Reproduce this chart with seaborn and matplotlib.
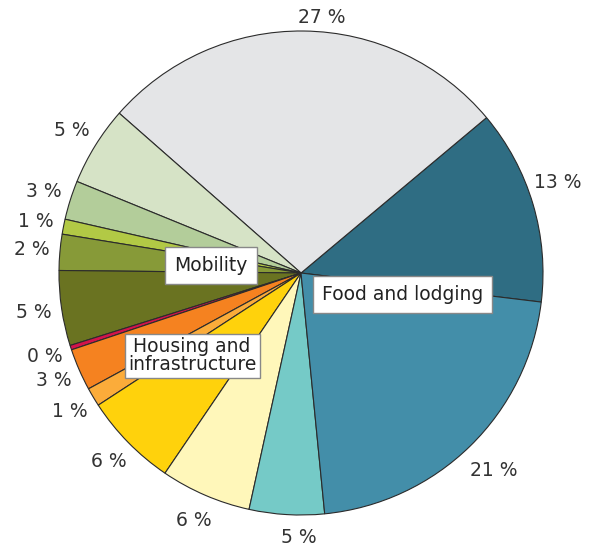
import matplotlib
matplotlib.use("Agg")
import matplotlib.pyplot as plt
import seaborn as sns
import numpy as np

sns.set_theme(style="white")
plt.rcParams['font.family'] = ['DejaVu Sans']

# shares in %, counter-clockwise starting just below 3 o'clock
categorias = ['Food dark', 'Grey', 'Pale green', 'Light green', 'Yellow green',
              'Olive', 'Dark olive', 'Red', 'Orange', 'Light orange',
              'Yellow', 'Light yellow', 'Light teal', 'Teal']
valores = [13.0, 27.4, 5.3, 2.6, 1.0, 2.4, 5.0, 0.3, 2.8, 1.25, 6.3, 6.05, 5.0, 21.5]
rotulos = ['13 %', '27 %', '5 %', '3 %', '1 %', '2 %', '5 %', '0 %', '3 %', '1 %',
           '6 %', '6 %', '5 %', '21 %']
cores = ['#2f6d83', '#e4e5e7', '#d6e3c6', '#b3cd9a', '#b2c945', '#879a38',
         '#6a7321', '#d3134b', '#f58220', '#fbac3a', '#ffd20c', '#fff7ba',
         '#75cac7', '#438ea9']

grupos = ['Mobility', 'Food and lodging', 'Housing and\ninfrastructure']
grupos_xy = [(-0.372, 0.029), (0.419, -0.089), (-0.450, -0.341)]

fig = plt.figure(figsize=(5.95, 5.48), dpi=100)
ax = fig.add_axes([0, 0, 1, 1])

wedges, _ = ax.pie(valores, colors=cores, startangle=-6.9, counterclock=True,
                   radius=1.0, center=(0, 0),
                   wedgeprops=dict(edgecolor='#2b2b2b', linewidth=0.8))

# percentage labels outside the pie
for i, (w, txt) in enumerate(zip(wedges, rotulos)):
    meio = (w.theta1 + w.theta2) / 2
    r = 1.115
    if i == 0:
        meio += 3
        r = 1.125
    if i == 1:   # big grey slice, label sits lower and a bit right
        meio -= 4
        r = 1.06
    if i == 12:
        meio += 3
        r = 1.095
    if i == 13:
        r = 1.14
    ang = np.deg2rad(meio)
    ax.text(r * np.cos(ang), r * np.sin(ang), txt, ha='center', va='center',
            fontsize=13.5, color='#333333')

pads = [0.48, 0.48, 0.18]
for g, (x, y), p in zip(grupos, grupos_xy, pads):
    ax.text(x, y, g, ha='center', va='center', fontsize=13.5, color='#222222',
            linespacing=0.95,
            bbox=dict(boxstyle='square,pad=%s' % p, facecolor='white',
                      edgecolor='#888888', linewidth=1))

ax.set_xlim(-301 / 242, 294 / 242)
ax.set_ylim(-275 / 242, 273 / 242)
ax.set_aspect('auto')
ax.axis('off')

fig.savefig('out.png', dpi=100)
